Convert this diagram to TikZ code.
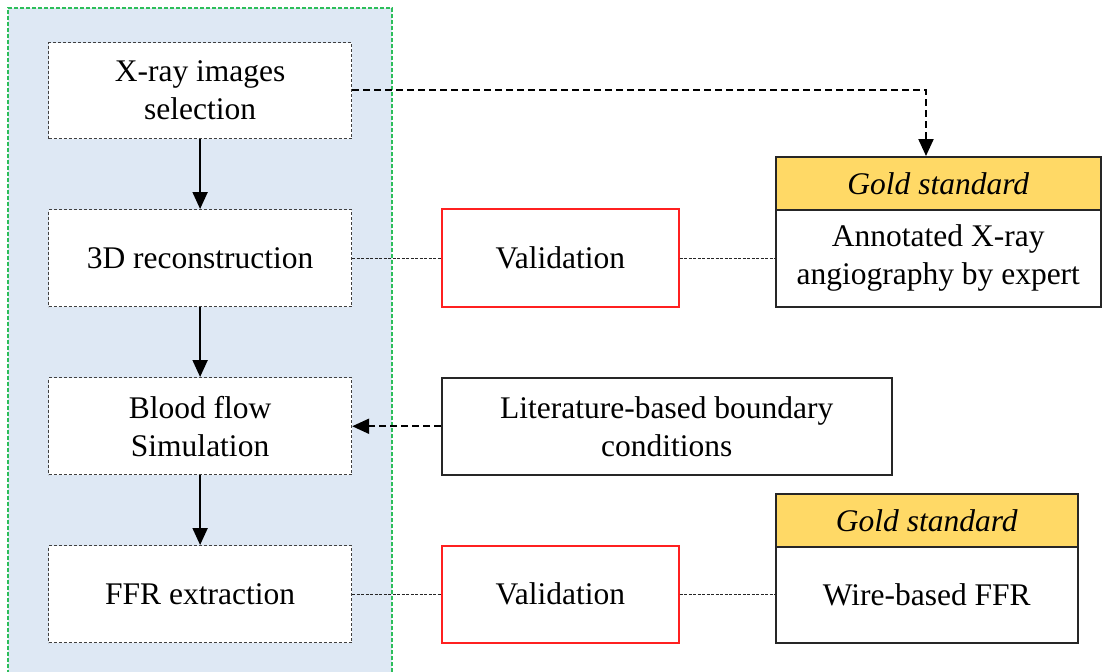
\documentclass[tikz,border=0pt]{standalone}
\usepackage{fontspec}
\setmainfont{Liberation Serif}
\usetikzlibrary{arrows.meta}
\definecolor{panelblue}{HTML}{DEE8F4}
\definecolor{panelgreen}{HTML}{2DBE5A}
\definecolor{goldfill}{HTML}{FFD966}
\definecolor{valred}{HTML}{FF2020}
\begin{document}
\begin{tikzpicture}[x=1pt,y=-1pt,
  txt/.style={font=\fontsize{31.5}{38}\selectfont, align=center},
  stepbox/.style={draw=black!75, dash pattern=on 3pt off 2pt, fill=white, line width=1.2pt},
  valbox/.style={draw=valred, fill=white, line width=1.5pt},
  plainbox/.style={draw=black!85, fill=white, line width=1.5pt},
  headbox/.style={draw=black!85, fill=goldfill, line width=1.5pt},
  flow/.style={-{Triangle[length=17pt,width=15pt]}, line width=2pt},
  ref/.style={-{Triangle[length=17pt,width=15pt]}, line width=2.2pt, dash pattern=on 7pt off 4pt},
  thin/.style={line width=1.1pt, dash pattern=on 3pt off 1.5pt, draw=black!85}
]
\useasboundingbox (0,0) rectangle (1104,672);
% panel
\fill[panelblue] (8,8) rectangle (392,680);
\draw[panelgreen, line width=1.1pt, dash pattern=on 4pt off 2pt] (8,680) -- (8,8) -- (392,8) -- (392,680);

% left steps
\node[stepbox, minimum width=303pt, minimum height=96pt, anchor=north west, inner sep=0pt] (s1) at (48,42) {};
\node[txt] at (s1.center) {X-ray images\\selection};
\node[stepbox, minimum width=303pt, minimum height=97pt, anchor=north west, inner sep=0pt] (s2) at (48,209) {};
\node[txt] at (s2.center) {3D reconstruction};
\node[stepbox, minimum width=303pt, minimum height=97pt, anchor=north west, inner sep=0pt] (s3) at (48,377) {};
\node[txt] at (s3.center) {Blood flow\\Simulation};
\node[stepbox, minimum width=303pt, minimum height=97pt, anchor=north west, inner sep=0pt] (s4) at (48,545) {};
\node[txt] at (s4.center) {FFR extraction};

\draw[flow] (s1.south) -- (s2.north);
\draw[flow] (s2.south) -- (s3.north);
\draw[flow] (s3.south) -- (s4.north);

% validation boxes
\node[valbox, minimum width=237pt, minimum height=98pt, anchor=north west, inner sep=0pt] (v1) at (441,208) {};
\node[txt] at (v1.center) {Validation};
\node[valbox, minimum width=237pt, minimum height=97pt, anchor=north west, inner sep=0pt] (v2) at (441,545) {};
\node[txt] at (v2.center) {Validation};

% gold standard 1
\node[headbox, minimum width=325pt, minimum height=53pt, anchor=north west, inner sep=0pt] (h1) at (775,156) {};
\node[txt] at (h1.center) {\itshape Gold standard};
\node[plainbox, minimum width=325pt, minimum height=97pt, anchor=north west, inner sep=0pt] (g1) at (775,209) {};
\node[txt] at (g1.center) {Annotated X-ray\\angiography by expert};

% gold standard 2
\node[headbox, minimum width=302pt, minimum height=53pt, anchor=north west, inner sep=0pt] (h2) at (775,493) {};
\node[txt] at (h2.center) {\itshape Gold standard};
\node[plainbox, minimum width=302pt, minimum height=96pt, anchor=north west, inner sep=0pt] (g2) at (775,546) {};
\node[txt] at (g2.center) {Wire-based FFR};

% literature
\node[plainbox, minimum width=450pt, minimum height=97pt, anchor=north west, inner sep=0pt] (lit) at (441,377) {};
\node[txt] at (lit.center) {Literature-based boundary\\conditions};

% connectors
\coordinate (c1) at (926,90);
\draw[ref] (s1.east |- c1) -- (c1) -- (c1 |- h1.north);
\draw[ref] (lit.west) -- (s3.east |- lit.west);
\draw[thin] (s2.east) -- (v1.west |- s2.east);
\draw[thin] (v1.east |- s2.east) -- (g1.west |- s2.east);
\draw[thin] (s4.east) -- (v2.west |- s4.east);
\draw[thin] (v2.east |- s4.east) -- (g2.west |- s4.east);
\end{tikzpicture}
\end{document}
